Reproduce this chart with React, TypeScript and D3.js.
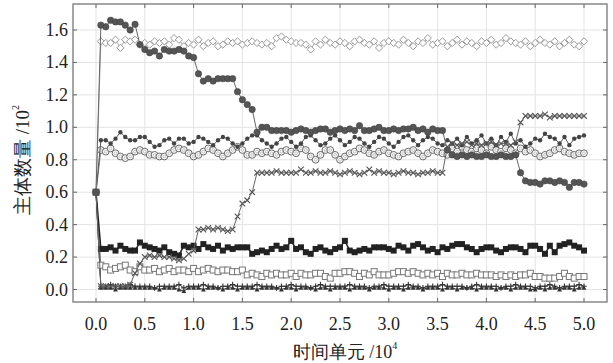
import React, { useEffect } from "react";
import * as d3 from "d3";

const xValues: number[] = d3.range(0, 101).map((i) => i * 0.05);

const bigCircle = [0.60,
  1.63, 1.62, 1.66, 1.65, 1.65, 1.63, 1.60, 1.635, 1.51, 1.48,
  1.46, 1.47, 1.44, 1.48, 1.47, 1.47, 1.48, 1.47, 1.44, 1.43,
  1.33, 1.285, 1.30, 1.285, 1.30, 1.30, 1.30, 1.30, 1.22, 1.17,
  1.14, 1.11, 0.97, 1.00, 1.00, 0.98, 0.98, 0.98, 0.98, 0.97,
  0.98, 0.99, 0.98, 0.97, 0.98, 0.99, 0.99, 0.97, 0.98, 0.99,
  0.98, 0.99, 0.98, 1.01, 0.98, 0.98, 0.99, 1.00, 0.98, 0.98,
  0.99, 0.98, 0.99, 0.99, 1.00, 0.98, 0.99, 0.97, 0.99, 0.98,
  0.98, 0.86, 0.83, 0.82, 0.83, 0.82, 0.83, 0.82, 0.82, 0.83,
  0.82, 0.82, 0.83, 0.82, 0.82, 0.83, 0.72, 0.67, 0.66, 0.66,
  0.65, 0.67, 0.67, 0.66, 0.67, 0.66, 0.63, 0.66, 0.66, 0.65];

const diamond = [0.60,
  1.53, 1.52, 1.52, 1.54, 1.49, 1.54, 1.53, 1.54, 1.51, 1.52,
  1.51, 1.53, 1.52, 1.53, 1.51, 1.55, 1.54, 1.50, 1.52, 1.51,
  1.54, 1.50, 1.52, 1.53, 1.50, 1.51, 1.53, 1.52, 1.53, 1.51,
  1.52, 1.53, 1.52, 1.51, 1.52, 1.50, 1.55, 1.56, 1.54, 1.53,
  1.52, 1.52, 1.51, 1.48, 1.53, 1.51, 1.54, 1.52, 1.51, 1.53,
  1.52, 1.50, 1.53, 1.54, 1.52, 1.51, 1.53, 1.49, 1.52, 1.53,
  1.52, 1.51, 1.54, 1.52, 1.50, 1.53, 1.52, 1.55, 1.51, 1.52,
  1.53, 1.50, 1.52, 1.54, 1.51, 1.53, 1.52, 1.50, 1.53, 1.52,
  1.54, 1.51, 1.52, 1.55, 1.53, 1.52, 1.51, 1.53, 1.50, 1.52,
  1.54, 1.52, 1.51, 1.53, 1.50, 1.52, 1.54, 1.51, 1.50, 1.53];

const smallDot = [0.60,
  0.92, 0.92, 0.90, 0.93, 0.97, 0.94, 0.92, 0.92, 0.94, 0.94,
  0.91, 0.88, 0.89, 0.92, 0.93, 0.90, 0.93, 0.93, 0.90, 0.91,
  0.94, 0.93, 0.91, 0.89, 0.92, 0.94, 0.93, 0.90, 0.88, 0.90,
  0.93, 0.95, 0.95, 0.92, 0.90, 0.88, 0.90, 0.93, 0.94, 0.91,
  0.88, 0.90, 0.94, 0.95, 0.92, 0.89, 0.90, 0.93, 0.95, 0.92,
  0.89, 0.91, 0.94, 0.93, 0.90, 0.88, 0.91, 0.94, 0.93, 0.90,
  0.88, 0.91, 0.94, 0.95, 0.92, 0.89, 0.92, 0.94, 0.93, 0.90,
  0.89, 0.92, 0.90, 0.93, 0.89, 0.94, 0.90, 0.92, 0.95, 0.90,
  0.93, 0.89, 0.94, 0.91, 0.96, 0.90, 0.92, 0.88, 0.90, 0.93,
  0.92, 0.96, 0.94, 0.93, 0.90, 0.94, 0.89, 0.93, 0.94, 0.95];

const openCircle = [0.60,
  0.86, 0.85, 0.87, 0.84, 0.82, 0.81, 0.82, 0.85, 0.86, 0.85,
  0.83, 0.83, 0.82, 0.82, 0.84, 0.86, 0.87, 0.86, 0.84, 0.82,
  0.83, 0.85, 0.87, 0.86, 0.84, 0.82, 0.84, 0.86, 0.88, 0.86,
  0.83, 0.83, 0.85, 0.84, 0.85, 0.84, 0.83, 0.85, 0.86, 0.85,
  0.84, 0.87, 0.86, 0.82, 0.80, 0.83, 0.86, 0.86, 0.83, 0.80,
  0.82, 0.84, 0.85, 0.87, 0.86, 0.84, 0.83, 0.85, 0.86, 0.84,
  0.83, 0.82, 0.84, 0.85, 0.86, 0.84, 0.82, 0.84, 0.86, 0.85,
  0.84, 0.83, 0.87, 0.85, 0.88, 0.86, 0.85, 0.87, 0.86, 0.84,
  0.88, 0.86, 0.85, 0.87, 0.86, 0.84, 0.87, 0.85, 0.86, 0.84,
  0.82, 0.83, 0.84, 0.86, 0.87, 0.85, 0.84, 0.83, 0.84, 0.84];

const cross = [0.60,
  0.02, 0.02, 0.02, 0.02, 0.02, 0.02, 0.03, 0.10, 0.16, 0.20,
  0.21, 0.20, 0.21, 0.20, 0.20, 0.19, 0.18, 0.19, 0.22, 0.24,
  0.37, 0.37, 0.38, 0.37, 0.38, 0.37, 0.36, 0.37, 0.45, 0.53,
  0.55, 0.60, 0.72, 0.72, 0.72, 0.72, 0.73, 0.72, 0.72, 0.72,
  0.72, 0.74, 0.72, 0.72, 0.73, 0.72, 0.72, 0.73, 0.72, 0.71,
  0.72, 0.73, 0.72, 0.71, 0.72, 0.74, 0.72, 0.73, 0.72, 0.72,
  0.71, 0.72, 0.73, 0.72, 0.72, 0.71, 0.72, 0.72, 0.73, 0.72,
  0.72, 0.88, 0.90, 0.89, 0.90, 0.91, 0.89, 0.90, 0.89, 0.90,
  0.91, 0.89, 0.90, 0.90, 0.89, 0.91, 1.03, 1.07, 1.07, 1.07,
  1.07, 1.08, 1.06, 1.07, 1.07, 1.07, 1.07, 1.07, 1.07, 1.07];

const filledSquare = [0.60,
  0.25, 0.25, 0.26, 0.24, 0.27, 0.25, 0.24, 0.24, 0.29, 0.27,
  0.26, 0.25, 0.24, 0.26, 0.23, 0.22, 0.21, 0.27, 0.26, 0.27,
  0.25, 0.28, 0.26, 0.25, 0.27, 0.24, 0.26, 0.25, 0.26, 0.26,
  0.26, 0.22, 0.23, 0.24, 0.23, 0.25, 0.27, 0.25, 0.26, 0.30,
  0.25, 0.26, 0.23, 0.22, 0.25, 0.26, 0.24, 0.23, 0.25, 0.26,
  0.30, 0.24, 0.23, 0.24, 0.25, 0.24, 0.26, 0.26, 0.26, 0.25,
  0.24, 0.27, 0.26, 0.24, 0.27, 0.28, 0.26, 0.24, 0.25, 0.23,
  0.26, 0.25, 0.27, 0.28, 0.28, 0.26, 0.25, 0.23, 0.25, 0.26,
  0.26, 0.24, 0.23, 0.25, 0.26, 0.26, 0.25, 0.23, 0.27, 0.27,
  0.25, 0.22, 0.27, 0.23, 0.27, 0.28, 0.29, 0.27, 0.26, 0.24];

const openSquare = [0.60,
  0.15, 0.14, 0.12, 0.13, 0.14, 0.15, 0.12, 0.11, 0.14, 0.12,
  0.12, 0.13, 0.11, 0.12, 0.13, 0.11, 0.12, 0.12, 0.11, 0.13,
  0.11, 0.12, 0.13, 0.12, 0.11, 0.12, 0.12, 0.11, 0.11, 0.12,
  0.09, 0.10, 0.09, 0.08, 0.10, 0.09, 0.10, 0.09, 0.09, 0.10,
  0.08, 0.10, 0.09, 0.09, 0.10, 0.10, 0.08, 0.07, 0.10, 0.10,
  0.11, 0.11, 0.10, 0.08, 0.10, 0.09, 0.11, 0.09, 0.09, 0.09,
  0.10, 0.11, 0.11, 0.10, 0.11, 0.10, 0.09, 0.10, 0.09, 0.10,
  0.08, 0.10, 0.09, 0.09, 0.10, 0.09, 0.09, 0.10, 0.09, 0.09,
  0.09, 0.08, 0.09, 0.08, 0.09, 0.08, 0.09, 0.09, 0.10, 0.08,
  0.08, 0.07, 0.07, 0.07, 0.08, 0.10, 0.08, 0.07, 0.08, 0.08];

const plusSeries = [0.60,
  0.02, 0.02, 0.03, 0.02, 0.02, 0.02, 0.03, 0.02, 0.02, 0.02,
  0.02, 0.01, 0.02, 0.02, 0.02, 0.02, 0.03, 0.01, 0.02, 0.02,
  0.02, 0.03, 0.02, 0.02, 0.01, 0.02, 0.02, 0.03, 0.02, 0.02,
  0.02, 0.02, 0.03, 0.02, 0.02, 0.02, 0.01, 0.02, 0.02, 0.03,
  0.02, 0.02, 0.02, 0.01, 0.02, 0.03, 0.02, 0.02, 0.02, 0.02,
  0.02, 0.03, 0.02, 0.02, 0.02, 0.01, 0.02, 0.02, 0.03, 0.02,
  0.02, 0.02, 0.02, 0.03, 0.02, 0.02, 0.01, 0.02, 0.02, 0.02,
  0.03, 0.02, 0.02, 0.02, 0.02, 0.01, 0.02, 0.03, 0.02, 0.02,
  0.02, 0.02, 0.01, 0.02, 0.02, 0.03, 0.02, 0.02, 0.02, 0.01,
  0.02, 0.02, 0.03, 0.02, 0.01, 0.02, 0.02, 0.02, 0.03, 0.02];

const triangleSeries = [0.60,
  0.01, 0.01, 0.01, 0.00, 0.01, 0.01, 0.01, 0.01, 0.01, 0.01,
  0.01, 0.01, 0.00, 0.01, 0.01, 0.01, 0.00, -0.01, 0.01, 0.01,
  0.01, 0.00, 0.01, 0.01, 0.01, 0.00, 0.01, 0.01, 0.00, 0.01,
  0.01, 0.01, 0.00, 0.01, 0.01, 0.01, 0.01, 0.00, 0.01, 0.01,
  0.00, 0.01, 0.01, 0.01, 0.00, 0.01, 0.01, 0.00, 0.01, 0.01,
  0.01, 0.00, 0.01, 0.01, 0.01, 0.00, 0.01, 0.01, 0.01, 0.00,
  0.01, 0.01, 0.00, 0.01, 0.01, 0.01, 0.00, 0.01, 0.01, 0.01,
  0.00, 0.01, 0.01, 0.00, 0.01, 0.01, 0.01, 0.00, 0.01, 0.01,
  0.01, 0.00, 0.01, 0.01, 0.00, 0.01, 0.01, 0.01, 0.00, 0.00,
  0.01, 0.00, 0.01, 0.01, 0.00, 0.01, 0.01, 0.00, 0.01, 0.01];

const xTicks = [0, 0.5, 1, 1.5, 2, 2.5, 3, 3.5, 4, 4.5, 5];
const yTicks = [0, 0.2, 0.4, 0.6, 0.8, 1.0, 1.2, 1.4, 1.6];

type Marker = "circle" | "dot" | "ocircle" | "diamond" | "cross" | "square" | "osquare" | "plus" | "triangle";

interface SeriesDef {
  name: string;
  values: number[];
  marker: Marker;
  line: string;
  lineWidth: number;
  color: string;
}

const series: SeriesDef[] = [
  { name: "triangle", values: triangleSeries, marker: "triangle", line: "#333", lineWidth: 1, color: "#333" },
  { name: "plus", values: plusSeries, marker: "plus", line: "#444", lineWidth: 1, color: "#333" },
  { name: "osquare", values: openSquare, marker: "osquare", line: "#777", lineWidth: 1, color: "#777" },
  { name: "square", values: filledSquare, marker: "square", line: "#222", lineWidth: 1.5, color: "#222" },
  { name: "ocircle", values: openCircle, marker: "ocircle", line: "#777", lineWidth: 1, color: "#666" },
  { name: "dot", values: smallDot, marker: "dot", line: "#555", lineWidth: 1, color: "#444" },
  { name: "cross", values: cross, marker: "cross", line: "#666", lineWidth: 1, color: "#555" },
  { name: "diamond", values: diamond, marker: "diamond", line: "#aaa", lineWidth: 1, color: "#999" },
  { name: "circle", values: bigCircle, marker: "circle", line: "#666", lineWidth: 1, color: "#555" },
];

const W = 613;
const H = 363;
const frame = { left: 73, right: 607, top: 4, bottom: 302 };

const x = d3.scaleLinear().domain([0, 5]).range([96, 584]);
const y = d3.scaleLinear().domain([0, 1.6]).range([289.5, 30]);

const serif = '"Liberation Serif", serif';
const titleFont = "serif";

function MarkerShape({ m, cx, cy, color }: { m: Marker; cx: number; cy: number; color: string }) {
  switch (m) {
    case "circle":
      return <circle cx={cx} cy={cy} r={3.2} fill={color} stroke="#444" strokeWidth={0.6} />;
    case "dot":
      return <circle cx={cx} cy={cy} r={2.2} fill={color} />;
    case "ocircle":
      return (
        <g>
          <circle cx={cx} cy={cy} r={3.4} fill="#fff" stroke={color} strokeWidth={1} />
          <circle cx={cx} cy={cy} r={1.4} fill="none" stroke="#999" strokeWidth={0.6} />
        </g>
      );
    case "diamond": {
      const s = 3.6;
      return (
        <path d={`M${cx},${cy - s}L${cx + s},${cy}L${cx},${cy + s}L${cx - s},${cy}Z`} fill="#fff" stroke={color} strokeWidth={1} />
      );
    }
    case "cross": {
      const s = 2.8;
      return (
        <path d={`M${cx - s},${cy - s}L${cx + s},${cy + s}M${cx - s},${cy + s}L${cx + s},${cy - s}`} stroke={color} strokeWidth={1.1} fill="none" />
      );
    }
    case "square": {
      const s = 3;
      return <rect x={cx - s} y={cy - s} width={2 * s} height={2 * s} fill={color} />;
    }
    case "osquare": {
      const s = 3;
      return <rect x={cx - s} y={cy - s} width={2 * s} height={2 * s} fill="#fff" stroke={color} strokeWidth={1} />;
    }
    case "plus": {
      const s = 2.8;
      return <path d={`M${cx - s},${cy}L${cx + s},${cy}M${cx},${cy - s}L${cx},${cy + s}`} stroke={color} strokeWidth={1.1} fill="none" />;
    }
    case "triangle": {
      const s = 2.4;
      return <path d={`M${cx},${cy - s}L${cx + s},${cy + s * 0.8}L${cx - s},${cy + s * 0.8}Z`} fill={color} />;
    }
  }
  return null;
}

export default function App() {
  useEffect(() => {
    document.body.style.margin = "0";
  }, []);

  const lineGen = d3
    .line<number>()
    .x((_, i) => x(xValues[i]))
    .y((d) => y(d));

  return (
    <svg width={W} height={H} style={{ display: "block", position: "absolute", left: 0, top: 0, background: "#fff" }}>
      <rect x={0} y={0} width={W} height={H} fill="#fff" />
      <g stroke="#e3e3e3" strokeWidth={1}>
        {xTicks.map((t) => (
          <line key={"gx" + t} x1={x(t)} x2={x(t)} y1={frame.top} y2={frame.bottom} />
        ))}
        {yTicks.map((t) => (
          <line key={"gy" + t} x1={frame.left} x2={frame.right} y1={y(t)} y2={y(t)} />
        ))}
      </g>
      {series.map((s) => (
        <g key={s.name}>
          <path d={lineGen(s.values) || ""} fill="none" stroke={s.line} strokeWidth={s.lineWidth} />
          {s.values.map((v, i) => (
            <MarkerShape key={i} m={s.marker} cx={x(xValues[i])} cy={y(v)} color={i === 0 ? "#555" : s.color} />
          ))}
        </g>
      ))}
      <rect
        x={frame.left}
        y={frame.top}
        width={frame.right - frame.left}
        height={frame.bottom - frame.top}
        fill="none"
        stroke="#888"
        strokeWidth={1.5}
      />
      <g stroke="#666" strokeWidth={1}>
        {xTicks.map((t) => (
          <g key={"tx" + t}>
            <line x1={x(t)} x2={x(t)} y1={frame.bottom} y2={frame.bottom - 4} />
            <line x1={x(t)} x2={x(t)} y1={frame.top} y2={frame.top + 4} />
          </g>
        ))}
        {yTicks.map((t) => (
          <g key={"ty" + t}>
            <line x1={frame.left} x2={frame.left + 4} y1={y(t)} y2={y(t)} />
            <line x1={frame.right} x2={frame.right - 4} y1={y(t)} y2={y(t)} />
          </g>
        ))}
      </g>
      <g style={{ fontFamily: serif, fontSize: "18px" }} fill="#222">
        {xTicks.map((t) => (
          <text key={"lx" + t} x={x(t)} y={324} textAnchor="middle" dominantBaseline="central">
            {t.toFixed(1)}
          </text>
        ))}
        {yTicks.map((t) => (
          <text key={"ly" + t} x={68} y={y(t)} textAnchor="end" dominantBaseline="central">
            {t.toFixed(1)}
          </text>
        ))}
      </g>
      <text
        x={345}
        y={352}
        textAnchor="middle"
        dominantBaseline="central"
        style={{ fontFamily: titleFont, fontSize: "18px" }}
        fill="#222"
      >
        时间单元 /10<tspan style={{ fontSize: "10px" }} dy={-7}>4</tspan>
      </text>
      <text
        transform={`translate(22,${160}) rotate(-90)`}
        textAnchor="middle"
        dominantBaseline="central"
        style={{ fontFamily: titleFont, fontSize: "19px" }}
        fill="#222"
      >
        主体数量 /10<tspan style={{ fontSize: "10px" }} dy={-7}>2</tspan>
      </text>
    </svg>
  );
}
